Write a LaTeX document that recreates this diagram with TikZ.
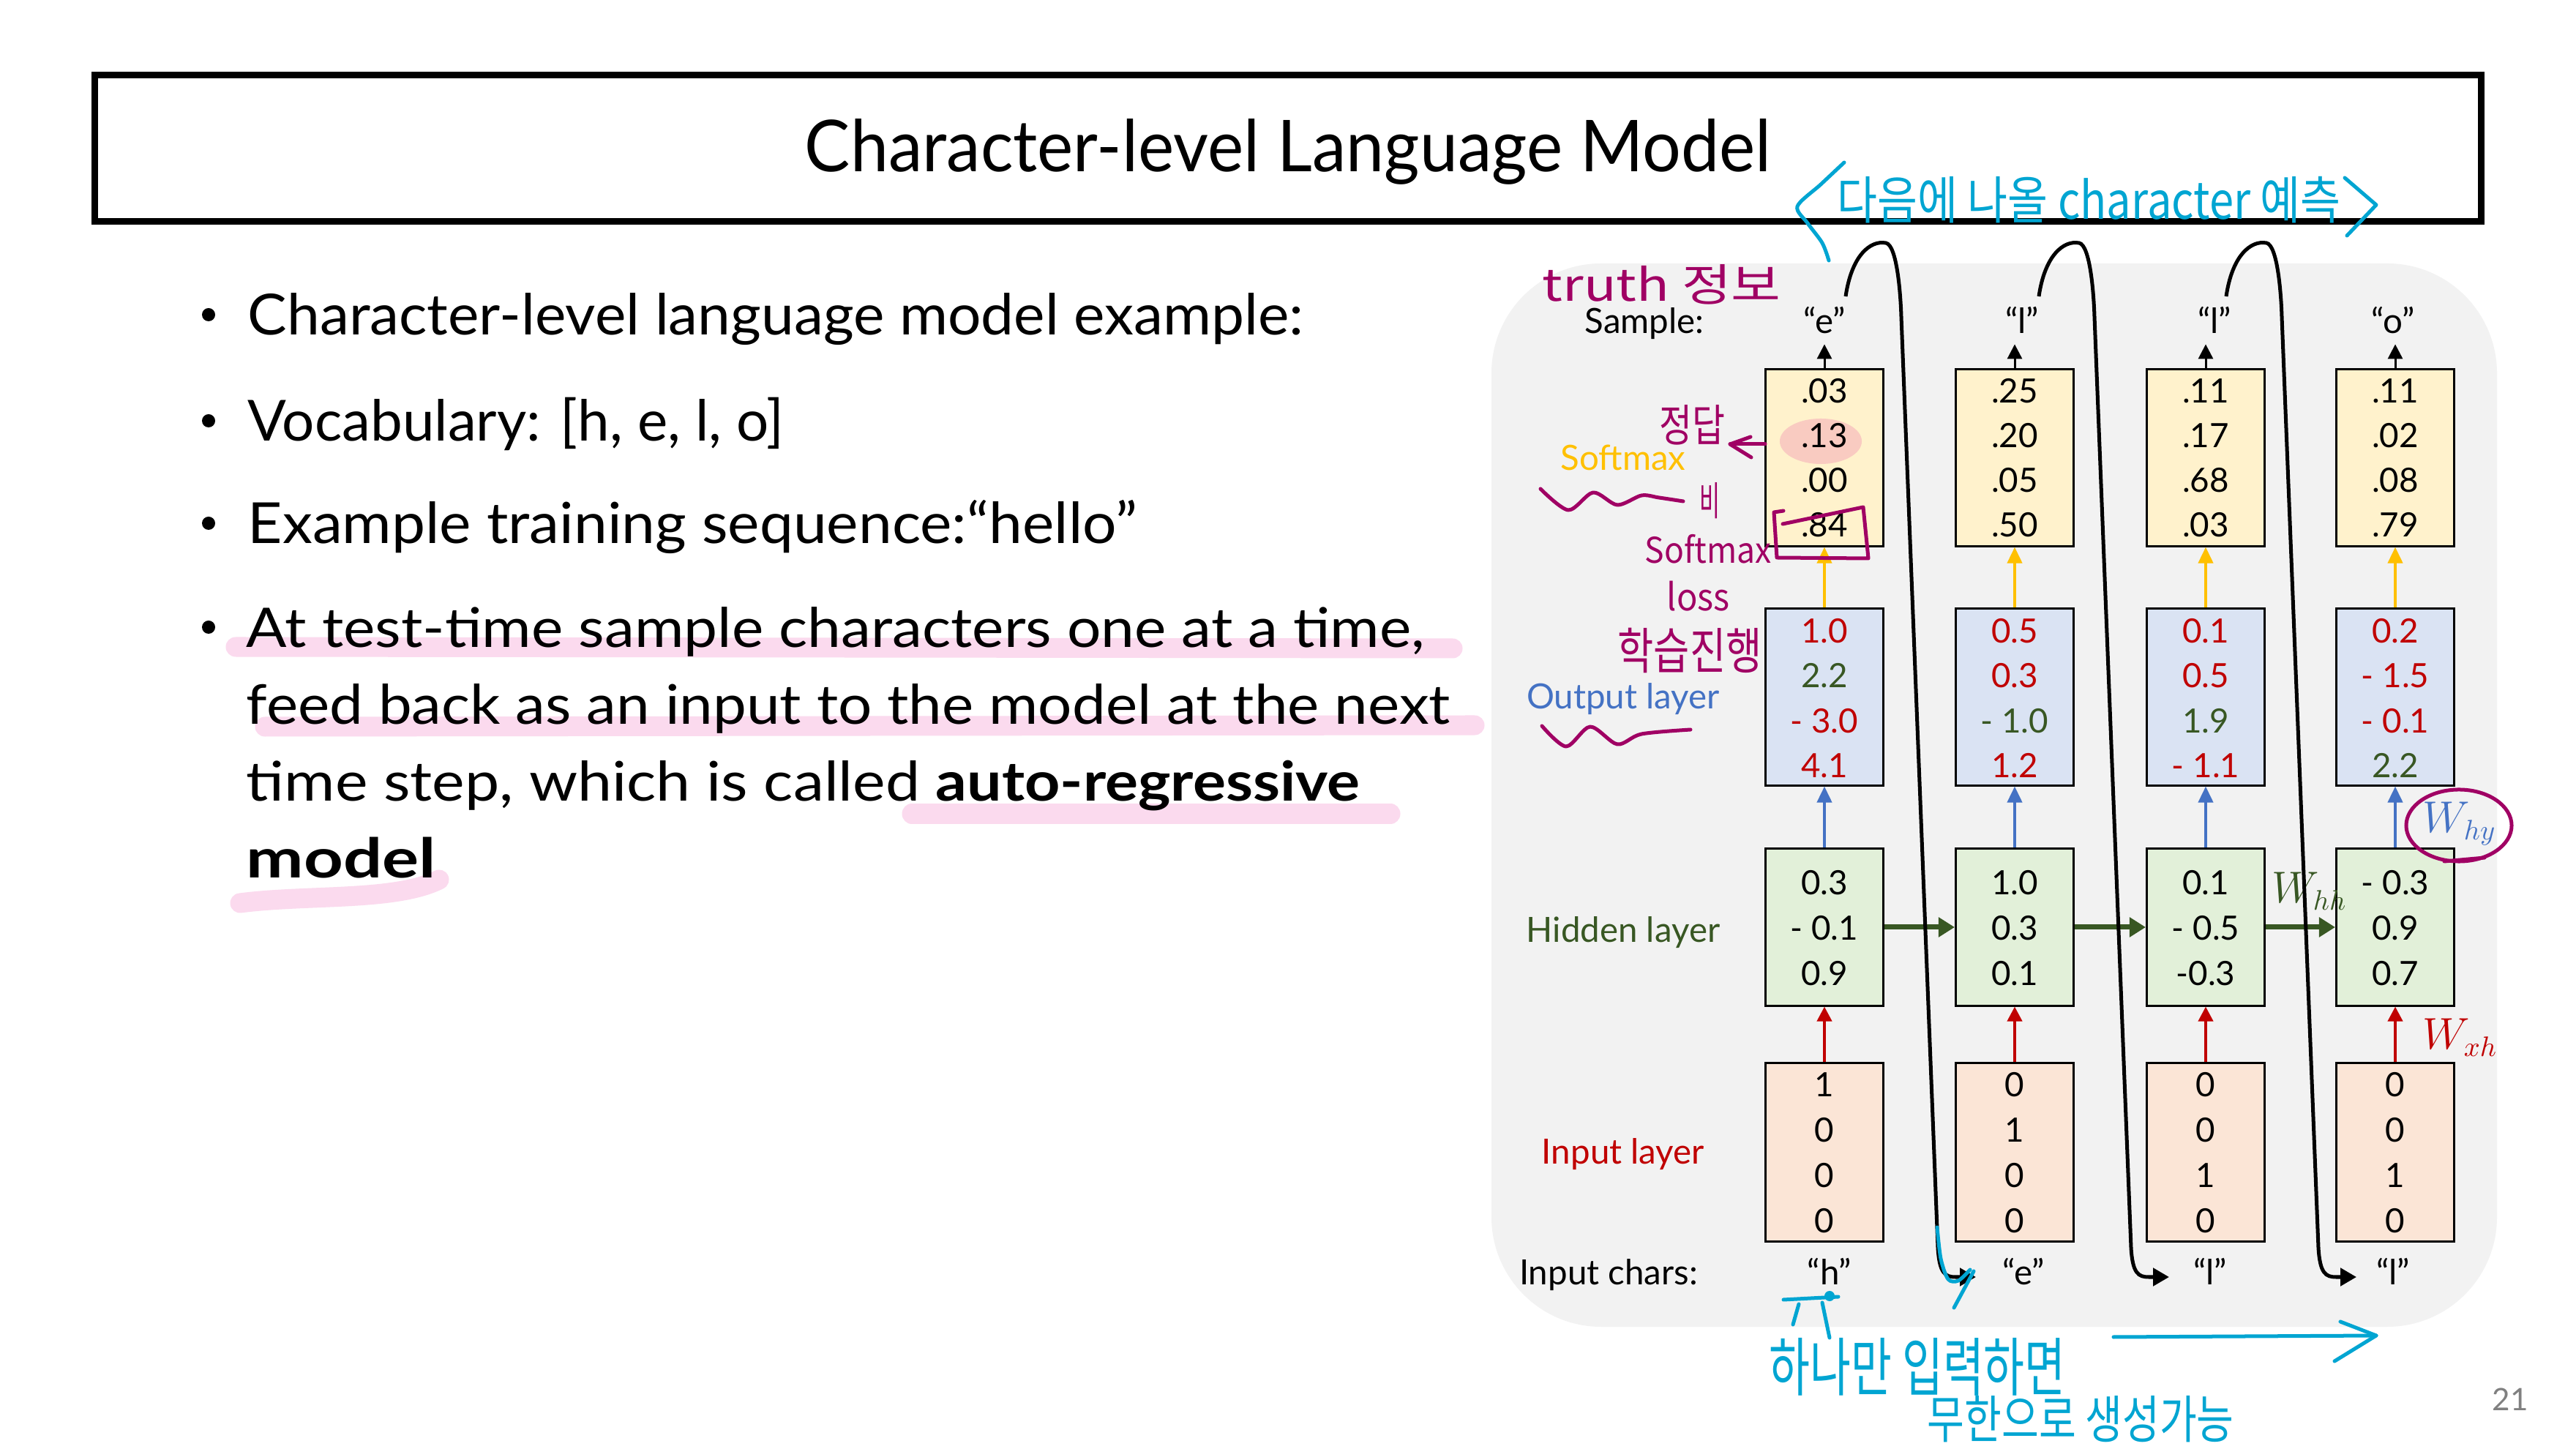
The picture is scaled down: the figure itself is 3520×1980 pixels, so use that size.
\documentclass[tikz,border=0pt]{standalone}
\usepackage{fontspec}
\setmainfont{Lato}
\newfontfamily\krf{Noto Sans CJK KR}
\usetikzlibrary{arrows.meta}
\newlength\pxu \setlength\pxu{0.01cm}
\newcommand\fitt[3]{\resizebox{#1\pxu}{#2\pxu}{\vphantom{l}\smash{#3}}}
\newcommand\fitk[3]{\resizebox{#1\pxu}{#2\pxu}{\krf\vphantom{한}\smash{#3}}}
\definecolor{cR}{HTML}{C00000}
\definecolor{cG}{HTML}{385723}
\definecolor{cB}{HTML}{4472C4}
\definecolor{cO}{HTML}{FFC000}
\definecolor{fS}{HTML}{FFF2CC}
\definecolor{fO}{HTML}{DAE3F3}
\definecolor{fH}{HTML}{E2F0D9}
\definecolor{fI}{HTML}{FBE5D6}
\definecolor{bgG}{HTML}{F2F2F2}
\definecolor{pk}{RGB}{251,218,238}
\definecolor{pu}{RGB}{160,0,100}
\definecolor{cy}{RGB}{0,165,210}
\definecolor{salm}{RGB}{249,203,193}
\tikzset{
  box/.style={draw=black, line width=0.03cm, minimum width=1.61cm, inner sep=0},
  sbox/.style={box, fill=fS, minimum height=2.41cm},
  obox/.style={box, fill=fO, minimum height=2.41cm},
  hbox/.style={box, fill=fH, minimum height=2.14cm},
  ibox/.style={box, fill=fI, minimum height=2.43cm},
  num/.style={inner sep=0, font=\fontsize{13}{15}\selectfont},
  lbl/.style={inner sep=0, anchor=base, font=\fontsize{13.5}{16}\selectfont},
  txt/.style={anchor=base west, inner sep=0},
  bul/.style={circle, fill=black, inner sep=0, minimum size=0.18cm},
  hl/.style={draw=pk, line width=0.27cm, line cap=round},
  purp/.style={draw=pu, line width=0.05cm, line cap=round, line join=round},
  cyn/.style={draw=cy, line width=0.05cm, line cap=round, line join=round},
  blkarr/.style={draw=black, line width=0.03cm, -{Triangle[length=0.2cm,width=0.2cm]}},
  redarr/.style={draw=cR, line width=0.04cm, -{Triangle[length=0.2cm,width=0.2cm]}},
  bluarr/.style={draw=cB, line width=0.04cm, -{Triangle[length=0.22cm,width=0.2cm]}},
  orarr/.style={draw=cO, line width=0.04cm, -{Triangle[length=0.22cm,width=0.2cm]}},
  grarr/.style={draw=cG, line width=0.07cm, -{Triangle[length=0.22cm,width=0.26cm]}},
  fb/.style={draw=black, line width=0.05cm, -{Triangle[length=0.22cm,width=0.24cm]}},
  wlbl/.style={txt, font=\fontsize{16}{18}\selectfont},
}
\begin{document}
\begin{tikzpicture}[x=0.01cm, y=-0.01cm]
\useasboundingbox (0,0) rectangle (3520,1980);
\fill[white] (0,0) rectangle (3520,1980);

% title
\node[draw, line width=0.09cm, minimum width=32.6cm, minimum height=1.99cm, inner sep=0] (tbox) at (1760,202.5) {};
\node[anchor=base, inner sep=0] (title) at (1760,235) {\fitt{1320}{72}{Character-level Language Model}};

% highlights
\draw[hl] (322,884) -- (1985,886);
\draw[hl] (362,993) -- (2015,991);
\draw[hl] (1246,1112) -- (1900,1112);
\draw[hl] (328,1234) .. controls (420,1222) and (540,1232) .. (600,1202);

% bullets
\node[bul] (b1) at (285,430) {};
\node[bul] (b2) at (285,575) {};
\node[bul] (b3) at (285,715) {};
\node[bul] (b4) at (285,857) {};
\node[txt] (t1) at (338,458) {\fitt{1443}{57}{Character-level language model example:}};
\node[txt] (t2) at (338,603) {\fitt{733}{57}{Vocabulary: [h, e, l, o]}};
\node[txt] (t3) at (338,743) {\fitt{1215}{57}{Example training sequence:“hello”}};
\node[txt] (t4) at (336,885) {\fitt{1610}{55}{At test-time sample characters one at a time,}};
\node[txt] (t5) at (336,990) {\fitt{1645}{55}{feed back as an input to the model at the next}};
\node[txt] (t6) at (336,1095) {\fitt{1522}{55}{time step, which is called \textbf{auto-regressive}}};
\node[txt] (t7) at (336,1200) {\fitt{259}{55}{\textbf{model}}};

% diagram background
\fill[bgG, rounded corners=1.5cm] (2038,360) rectangle (3412,1813);

\foreach \i/\x in {1/2493,2/2753,3/3014,4/3273} {
  \node[sbox] (s\i) at (\x,625.5) {};
  \node[obox] (o\i) at (\x,952.5) {};
  \node[hbox] (h\i) at (\x,1267) {};
  \node[ibox] (in\i) at (\x,1574.5) {};
}
\fill[salm] (2488,603) ellipse [x radius=0.56cm, y radius=0.31cm];

\foreach \i/\x/\a/\b/\c/\d in {1/2493/.03/.13/.00/.84, 2/2753/.25/.20/.05/.50, 3/3014/.11/.17/.68/.03, 4/3273/.11/.02/.08/.79} {
  \node[num] (s\i-1) at (\x,534) {\a};
  \node[num] (s\i-2) at (\x,595) {\b};
  \node[num] (s\i-3) at (\x,656) {\c};
  \node[num] (s\i-4) at (\x,717) {\d};
}
\foreach \i/\x/\a/\ca/\b/\cb/\c/\cc/\d/\cd in {
  1/2493/1.0/cR/2.2/cG/- 3.0/cR/4.1/cR,
  2/2753/0.5/cR/0.3/cR/- 1.0/cG/1.2/cR,
  3/3014/0.1/cR/0.5/cR/1.9/cG/- 1.1/cR,
  4/3273/0.2/cR/- 1.5/cR/- 0.1/cR/2.2/cG} {
  \node[num, text=\ca] (o\i-1) at (\x,862) {\a};
  \node[num, text=\cb] (o\i-2) at (\x,923) {\b};
  \node[num, text=\cc] (o\i-3) at (\x,985) {\c};
  \node[num, text=\cd] (o\i-4) at (\x,1046) {\d};
}
\foreach \i/\x/\a/\b/\c in {1/2493/0.3/- 0.1/0.9, 2/2753/1.0/0.3/0.1, 3/3014/0.1/- 0.5/-0.3, 4/3273/- 0.3/0.9/0.7} {
  \node[num] (h\i-1) at (\x,1206) {\a};
  \node[num] (h\i-2) at (\x,1268) {\b};
  \node[num] (h\i-3) at (\x,1330) {\c};
}
\foreach \i/\x/\a/\b/\c/\d in {1/2493/1/0/0/0, 2/2753/0/1/0/0, 3/3014/0/0/1/0, 4/3273/0/0/1/0} {
  \node[num] (in\i-1) at (\x,1482) {\a};
  \node[num] (in\i-2) at (\x,1544) {\b};
  \node[num] (in\i-3) at (\x,1606) {\c};
  \node[num] (in\i-4) at (\x,1668) {\d};
}

% labels
\node[lbl] (sampl) at (2247,456) {Sample:};
\node[lbl] (inchl) at (2198,1755) {Input chars:};
\node[lbl, text=cO] (smxl) at (2218,643) {Softmax};
\node[lbl, text=cB] (outl) at (2218,969) {Output layer};
\node[lbl, text=cG] (hidl) at (2218,1288) {Hidden layer};
\node[lbl, text=cR] (inpl) at (2218,1591) {Input layer};
\foreach \i/\x/\t in {1/2493/e, 2/2763/l, 3/3026/l, 4/3270/o} {
  \node[lbl] (samp\i) at (\x,456) {“\t”};
}
\foreach \i/\x/\t in {1/2500/h, 2/2765/e, 3/3020/l, 4/3270/l} {
  \node[lbl] (inc\i) at (\x,1755) {“\t”};
}

% arrows between layers
\foreach \i in {1,2,3,4} {
  \draw[redarr] (in\i.north) -- (h\i.south);
  \draw[bluarr] (h\i.north) -- (o\i.south);
  \draw[orarr] (o\i.north) -- (s\i.south);
  \draw[blkarr] (s\i.north) -- ++(0,-33);
}
\draw[grarr] (h1.east) -- (h2.west);
\draw[grarr] (h2.east) -- (h3.west);
\draw[grarr] (h3.east) -- (h4.west);

\node[wlbl, text=cG] (whh) at (3104,1234) {$W_{hh}$};
\node[wlbl, text=cB] (why) at (3310,1138) {$W_{hy}$};
\node[wlbl, text=cR] (wxh) at (3310,1434) {$W_{xh}$};

% feedback curves
\foreach \k/\sx in {1/0, 2/264, 3/520} {
  \begin{scope}[shift={(\sx,0)}]
    \coordinate (fbs\k) at (2522,405);
    \coordinate (fbe\k) at (2700,1745);
    \draw[fb] (fbs\k) .. controls (2530,350) and (2555,328) .. (2577,332)
      .. controls (2592,335) and (2597,400) .. (2598,433) -- (2648,1705)
      .. controls (2650,1740) and (2658,1745) .. (2672,1745) -- (fbe\k);
  \end{scope}
}

% purple annotations
\node[txt, text=pu] (truth) at (2107,412) {\fitk{326}{50}{truth 정보}};
\node[txt, text=pu] (jd) at (2267,604) {\fitk{90}{50}{정답}};
\draw[purp] (2412,607) -- (2364,607);
\draw[purp] (2392,597) -- (2364,607) -- (2393,625);
\draw[purp] plot[smooth] coordinates {(2105,668) (2143,697) (2177,673) (2210,690) (2243,677) (2267,680) (2300,685)};
\node[txt, text=pu] (bi) at (2322,705) {\fitk{28}{45}{비}};
\node[txt, text=pu] (psm) at (2247,770) {\fitk{173}{40}{Softmax}};
\node[txt, text=pu] (ploss) at (2277,835) {\fitk{86}{42}{loss}};
\node[txt, text=pu] (phak) at (2210,915) {\fitk{197}{56}{학습진행}};
\draw[purp] plot[smooth] coordinates {(2107,992) (2140,1020) (2173,993) (2210,1017) (2243,1003) (2310,997)};
\draw[purp] (2437,698) -- (2424,700) -- (2428,762) -- (2553,763) -- (2546,693) -- (2436,716);
\draw[purp] (3360,1128) ellipse [x radius=0.72cm, y radius=0.49cm];
\draw[purp] (3340,1177) -- (3395,1172);

% cyan annotations
\draw[cyn] plot[smooth] coordinates {(2520,222) (2488,252) (2456,282) (2470,305) (2490,332) (2499,356)};
\node[txt, text=cy] (nxt) at (2510,300) {\fitk{688}{58}{다음에 나올 character 예측}};
\draw[cyn] (3204,243) -- (3247,280) -- (3207,322);
\draw[cyn] plot[smooth] coordinates {(2647,1677) (2652,1720) (2662,1748) (2676,1750) (2692,1735)};
\draw[cyn] (2697,1737) -- (2670,1787);
\draw[cyn] (2437,1776) -- (2512,1772);
\fill[cy] (2500,1771) circle [radius=0.07cm];
\draw[cyn] (2458,1782) -- (2450,1810);
\draw[cyn] (2490,1780) -- (2500,1828);
\node[txt, text=cy] (one) at (2417,1900) {\fitk{405}{72}{하나만 입력하면}};
\node[txt, text=cy] (inf) at (2633,1965) {\fitk{419}{58}{무한으로 생성가능}};
\draw[cyn] (2888,1827) -- (3247,1825);
\draw[cyn] (3198,1806) -- (3247,1825) -- (3190,1860);

% page number
\node[inner sep=0, text=black!50, font=\fontsize{12}{14}\selectfont] (pg) at (3430,1912) {21};
\end{tikzpicture}
\end{document}
